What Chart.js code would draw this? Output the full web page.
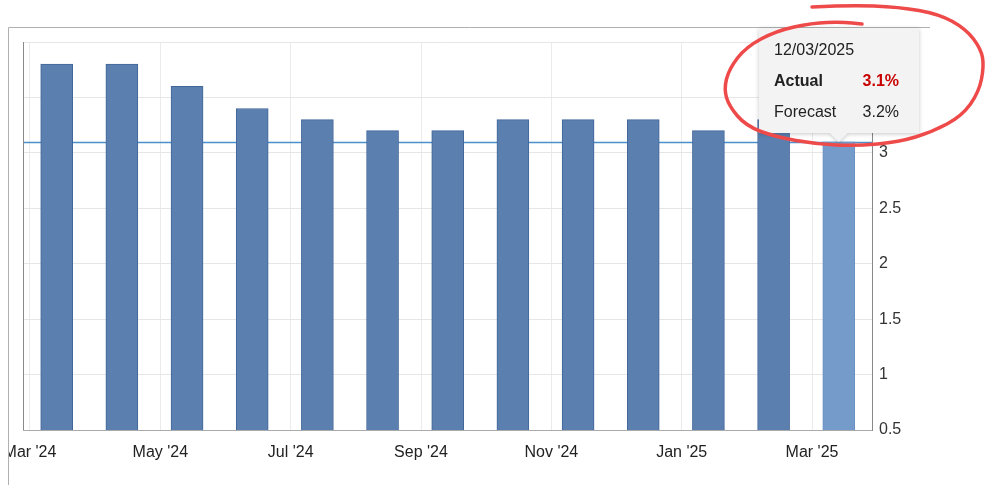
<!DOCTYPE html>
<html>
<head>
<meta charset="utf-8">
<script src="https://cdn.jsdelivr.net/npm/chart.js@4.4.1/dist/chart.umd.min.js"></script>
<style>
  html, body { margin:0; padding:0; background:#fff; }
  #wrap { position:relative; width:990px; height:485px; }
</style>
</head>
<body>
<div id="wrap"><canvas id="chart" width="990" height="485"></canvas></div>
<script>
// data
const months = ["Mar '24","Apr '24","May '24","Jun '24","Jul '24","Aug '24","Sep '24",
                "Oct '24","Nov '24","Dec '24","Jan '25","Feb '25","Mar '25"];
const actual = [3.8, 3.8, 3.6, 3.4, 3.3, 3.2, 3.2, 3.3, 3.3, 3.3, 3.2, 3.3, 3.1];
const tickMonths = [0, 2, 4, 6, 8, 10, 12];
const latestDate = "12/03/2025";
const latestActual = 3.1;
const latestForecast = 3.2;
const releaseOffset = 0.41; // release lands ~12th of the month

const FONT = "'Helvetica Neue', Helvetica, Arial, 'Liberation Sans', sans-serif";
Chart.defaults.font.family = FONT;

const barFill = actual.map((v, i) => i === actual.length - 1 ? "#749bc9" : "#5b7fae");
const barLine = actual.map((v, i) => i === actual.length - 1 ? "#6a91c0" : "#40669a");

// red hand-drawn ring, offsets from tooltip box top-left
const ring = [[53,-21],[90,-23],[140,-21],[180,-14],[207,1],[222,21],[225,38],[220,64],
  [203,88],[173,104],[140,114],[97,118],[57,116],[17,109],[-13,98],[-30,78],[-35,61],
  [-30,41],[-13,19],[17,3],[53,-5],[83,-6],[103,-4]];

const extras = {
  id: "extras",
  beforeDraw(chart) {
    const ctx = chart.ctx;
    ctx.save();
    ctx.beginPath();
    ctx.rect(9, 0, chart.width, chart.height);
    ctx.clip();
  },
  beforeDatasetsDraw(chart) {
    const { ctx, chartArea: a, scales: { y } } = chart;
    const yy = Math.round(y.getPixelForValue(latestActual)) + 0.5;
    ctx.save();
    ctx.strokeStyle = "#4b8fcc";
    ctx.lineWidth = 1.3;
    ctx.beginPath();
    ctx.moveTo(a.left, yy);
    ctx.lineTo(a.right, yy);
    ctx.stroke();
    ctx.restore();
  },
  afterDatasetsDraw(chart) {
    const { ctx, chartArea: a } = chart;
    ctx.save();
    ctx.strokeStyle = "#8a8a8a";
    ctx.lineWidth = 1;
    ctx.beginPath();
    ctx.moveTo(a.left + 0.5, a.top);
    ctx.lineTo(a.left + 0.5, a.bottom);
    ctx.stroke();
    ctx.restore();
  },
  afterDraw(chart) {
    const ctx = chart.ctx;
    ctx.restore();

    // outer frame
    ctx.save();
    ctx.strokeStyle = "#b0b0b0";
    ctx.lineWidth = 1;
    ctx.beginPath();
    ctx.moveTo(8.5, chart.height);
    ctx.lineTo(8.5, 27.5);
    ctx.lineTo(930, 27.5);
    ctx.stroke();
    ctx.restore();

    // tooltip on last bar
    const el = chart.getDatasetMeta(0).data[actual.length - 1];
    const w = 160, h = 105, arrow = 9;
    const bx = Math.round(el.x - w / 2);
    const by = Math.round(el.y - arrow - h);
    ctx.save();
    ctx.shadowColor = "rgba(0,0,0,0.22)";
    ctx.shadowBlur = 4;
    ctx.shadowOffsetY = 1;
    ctx.fillStyle = "#f3f3f3";
    ctx.beginPath();
    ctx.moveTo(bx, by);
    ctx.lineTo(bx + w, by);
    ctx.lineTo(bx + w, by + h);
    ctx.lineTo(el.x + arrow, by + h);
    ctx.lineTo(el.x, by + h + arrow);
    ctx.lineTo(el.x - arrow, by + h);
    ctx.lineTo(bx, by + h);
    ctx.closePath();
    ctx.fill();
    ctx.restore();

    ctx.save();
    ctx.textBaseline = "middle";
    ctx.fillStyle = "#222";
    ctx.font = "16px " + FONT;
    ctx.textAlign = "left";
    ctx.fillText(latestDate, bx + 15, by + 23);
    ctx.font = "bold 16px " + FONT;
    ctx.fillText("Actual", bx + 15, by + 54);
    ctx.font = "16px " + FONT;
    ctx.fillText("Forecast", bx + 15, by + 85);
    ctx.textAlign = "right";
    ctx.font = "bold 16px " + FONT;
    ctx.fillStyle = "#c80000";
    ctx.fillText(latestActual.toFixed(1) + "%", bx + w - 20, by + 54);
    ctx.font = "16px " + FONT;
    ctx.fillStyle = "#222";
    ctx.fillText(latestForecast.toFixed(1) + "%", bx + w - 20, by + 85);
    ctx.restore();

    // hand-drawn ring
    const pts = ring.map(p => [bx + p[0], by + p[1]]);
    ctx.save();
    ctx.strokeStyle = "#ef4a4a";
    ctx.lineWidth = 3.5;
    ctx.lineCap = "round";
    ctx.lineJoin = "round";
    ctx.beginPath();
    ctx.moveTo(pts[0][0], pts[0][1]);
    for (let i = 1; i < pts.length - 1; i++) {
      const mx = (pts[i][0] + pts[i + 1][0]) / 2;
      const my = (pts[i][1] + pts[i + 1][1]) / 2;
      ctx.quadraticCurveTo(pts[i][0], pts[i][1], mx, my);
    }
    const last = pts[pts.length - 1];
    ctx.lineTo(last[0], last[1]);
    ctx.stroke();
    ctx.restore();
  }
};

new Chart(document.getElementById("chart"), {
  type: "bar",
  data: {
    datasets: [{
      data: actual.map((v, i) => ({ x: i + releaseOffset, y: v })),
      backgroundColor: barFill,
      borderColor: barLine,
      borderWidth: 1,
      borderSkipped: "bottom",
      barThickness: 32
    }]
  },
  options: {
    responsive: false,
    devicePixelRatio: 1,
    animation: false,
    layout: { padding: { left: 23, top: 42, right: 0, bottom: 0 } },
    plugins: { legend: { display: false }, tooltip: { enabled: false } },
    scales: {
      x: {
        type: "linear",
        offset: false,
        min: -0.107,
        max: 12.92,
        afterBuildTicks: (s) => { s.ticks = tickMonths.map(v => ({ value: v })); },
        afterFit: (s) => { s.height = 55; s.paddingLeft = 0; s.paddingRight = 0; },
        ticks: {
          callback: (v) => months[v],
          font: { size: 16 },
          color: "#222",
          padding: 13,
          maxRotation: 0,
          autoSkip: false
        },
        grid: { color: "#ebebeb", drawTicks: false, offset: false },
        border: { color: "#aaaaaa" }
      },
      y: {
        position: "right",
        min: 0.5,
        max: 4,
        afterFit: (s) => { s.width = 118; s.paddingTop = 0; s.paddingBottom = 0; },
        ticks: {
          stepSize: 0.5,
          callback: (v) => String(v),
          font: { size: 16 },
          color: "#333",
          padding: 7
        },
        grid: { color: "#e6e6e6", drawTicks: false },
        border: { color: "#888888" }
      }
    }
  },
  plugins: [extras]
});
</script>
</body>
</html>
